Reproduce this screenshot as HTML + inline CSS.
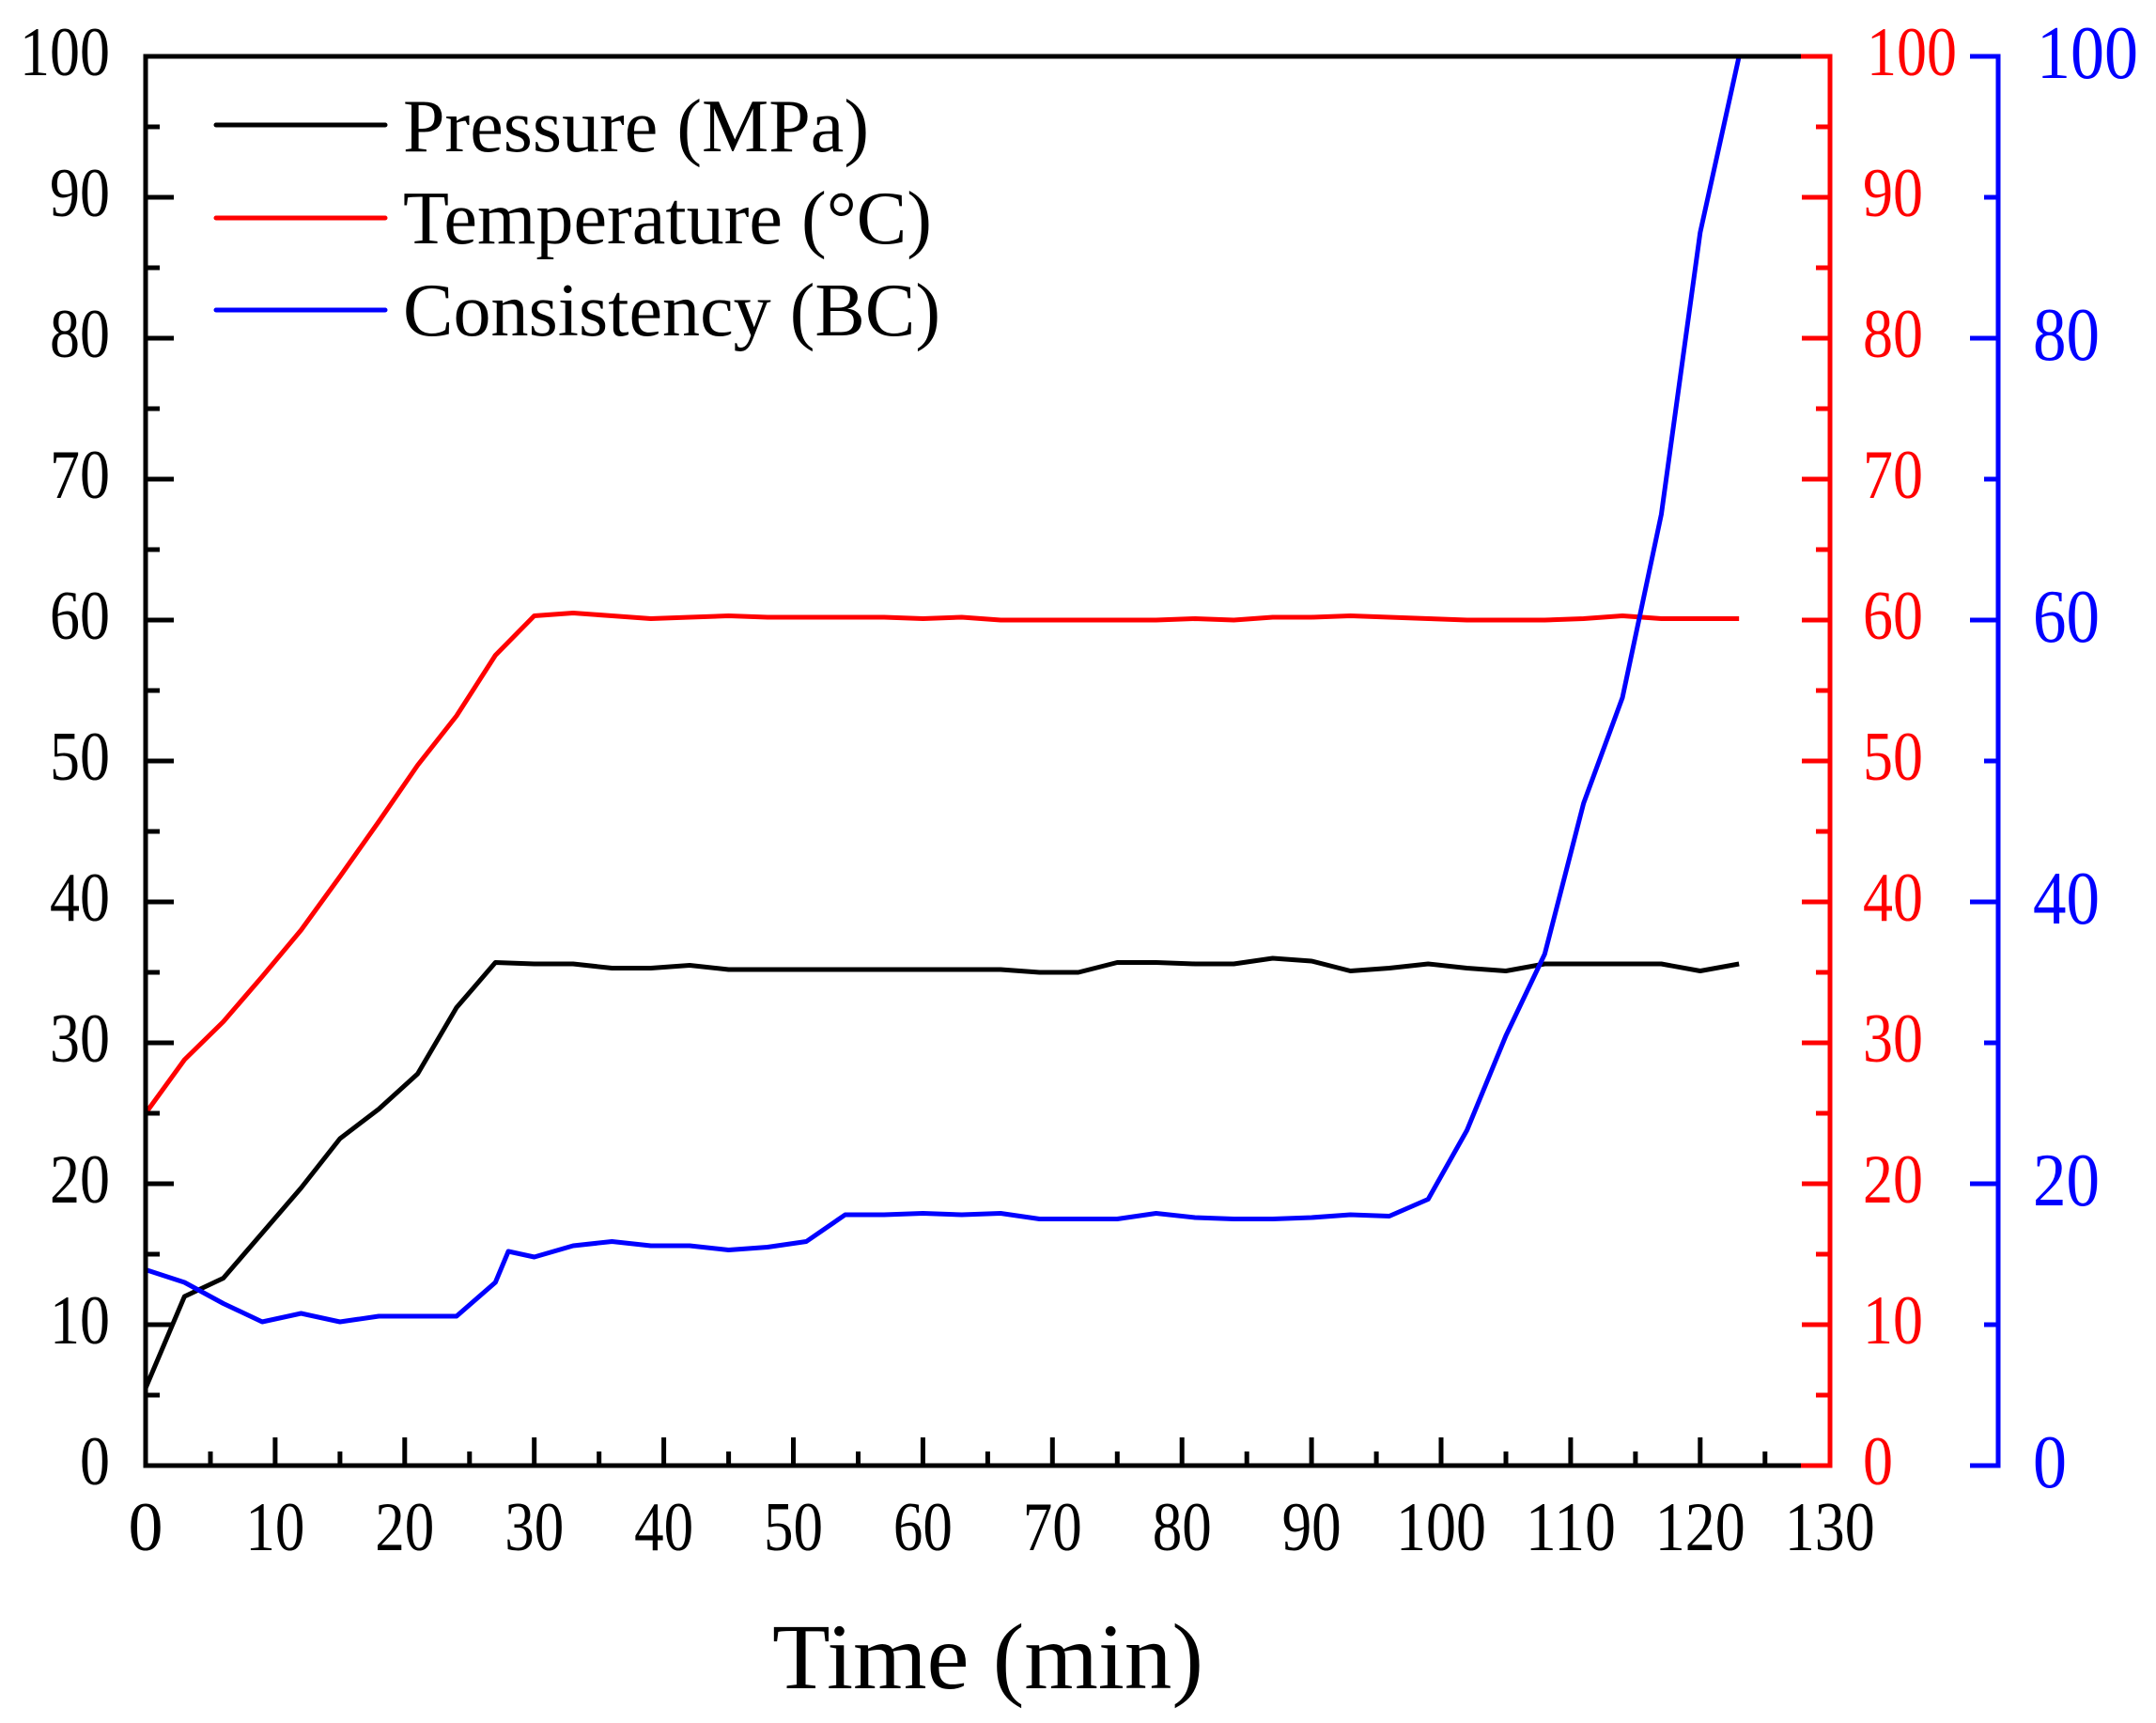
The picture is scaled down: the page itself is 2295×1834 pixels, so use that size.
<!DOCTYPE html>
<html><head><meta charset="utf-8"><style>
html,body{margin:0;padding:0;background:#fff;}
svg{display:block;}
text{font-family:"Liberation Serif",serif;}
</style></head><body>
<svg width="2295" height="1834" viewBox="0 0 2295 1834" xmlns="http://www.w3.org/2000/svg">
<rect width="2295" height="1834" fill="#fff"/>
<g transform="translate(155,1560) scale(13.79,-15)" fill="none" stroke-width="5" stroke-linejoin="round">
<polyline vector-effect="non-scaling-stroke" stroke="#000" points="0,5.5 3,12 6,13.3 9,16.5 12,19.7 15,23.2 18,25.3 21,27.8 24,32.5 27,35.7 30,35.6 33,35.6 36,35.3 39,35.3 42,35.5 45,35.2 48,35.2 51,35.2 54,35.2 57,35.2 60,35.2 63,35.2 66,35.2 69,35.0 72,35.0 75,35.7 78,35.7 81,35.6 84,35.6 87,36 90,35.8 93,35.1 96,35.3 99,35.6 102,35.3 105,35.1 108,35.6 111,35.6 114,35.6 117,35.6 120,35.1 123,35.6"/>
<polyline vector-effect="non-scaling-stroke" stroke="#ff0000" points="0,25 3,28.8 6,31.5 9,34.7 12,38 15,41.8 18,45.7 21,49.7 24,53.2 27,57.5 30,60.3 33,60.5 36,60.3 39,60.1 42,60.2 45,60.3 48,60.2 51,60.2 54,60.2 57,60.2 60,60.1 63,60.2 66,60 69,60 72,60 75,60 78,60 81,60.1 84,60 87,60.2 90,60.2 93,60.3 96,60.2 99,60.1 102,60 105,60 108,60 111,60.1 114,60.3 117,60.1 120,60.1 123,60.1"/>
<polyline vector-effect="non-scaling-stroke" stroke="#0000ff" points="0,13.9 3,13 6,11.5 9,10.2 12,10.8 15,10.2 18,10.6 21,10.6 24,10.6 27,13 28,15.2 30,14.8 33,15.6 36,15.9 39,15.6 42,15.6 45,15.3 48,15.5 51,15.9 54,17.8 57,17.8 60,17.9 63,17.8 66,17.9 69,17.5 72,17.5 75,17.5 78,17.9 81,17.6 84,17.5 87,17.5 90,17.6 93,17.8 96,17.7 99,18.9 102,23.8 105,30.5 108,36.3 111,47 114,54.5 117,67.5 120,87.5 123,100"/>
</g>
<g stroke-width="5" fill="none" stroke-linecap="square">
<line x1="155" y1="60" x2="1917" y2="60" stroke="#000"/>
<line x1="155" y1="1560" x2="1917" y2="1560" stroke="#000"/>
<line x1="155" y1="60" x2="155" y2="1560" stroke="#000"/>
<polyline points="1917,60 1948,60 1948,1560 1917,1560" stroke="#ff0000" stroke-linecap="butt"/>
<polyline points="2097,60 2127,60 2127,1560 2097,1560" stroke="#0000ff" stroke-linecap="butt"/>
</g>
<g stroke="#000" stroke-width="5">
<path d="M155 60h30M155 210h30M155 360h30M155 510h30M155 660h30M155 810h30M155 960h30M155 1110h30M155 1260h30M155 1410h30
M155 135h15M155 285h15M155 435h15M155 585h15M155 735h15M155 885h15M155 1035h15M155 1185h15M155 1335h15M155 1485h15"/>
<path d="M292.9 1560v-30M430.8 1560v-30M568.7 1560v-30M706.6 1560v-30M844.5 1560v-30M982.4 1560v-30M1120.3 1560v-30M1258.2 1560v-30M1396.1 1560v-30M1534 1560v-30M1671.9 1560v-30M1809.8 1560v-30
M224 1560v-15M361.9 1560v-15M499.8 1560v-15M637.7 1560v-15M775.6 1560v-15M913.5 1560v-15M1051.4 1560v-15M1189.3 1560v-15M1327.2 1560v-15M1465.1 1560v-15M1603 1560v-15M1740.9 1560v-15M1878.8 1560v-15"/>
</g>
<g stroke="#ff0000" stroke-width="5">
<path d="M1948 210h-30M1948 360h-30M1948 510h-30M1948 660h-30M1948 810h-30M1948 960h-30M1948 1110h-30M1948 1260h-30M1948 1410h-30
M1948 135h-15M1948 285h-15M1948 435h-15M1948 585h-15M1948 735h-15M1948 885h-15M1948 1035h-15M1948 1185h-15M1948 1335h-15M1948 1485h-15"/>
</g>
<g stroke="#0000ff" stroke-width="5">
<path d="M2127 360h-30M2127 660h-30M2127 960h-30M2127 1260h-30
M2127 210h-15M2127 510h-15M2127 810h-15M2127 1110h-15M2127 1410h-15"/>
</g>
<g font-size="74" text-anchor="end" fill="#000">
<text x="117" y="80" textLength="96" lengthAdjust="spacingAndGlyphs">100</text>
<text x="117" y="230" textLength="64" lengthAdjust="spacingAndGlyphs">90</text>
<text x="117" y="380" textLength="64" lengthAdjust="spacingAndGlyphs">80</text>
<text x="117" y="530" textLength="64" lengthAdjust="spacingAndGlyphs">70</text>
<text x="117" y="680" textLength="64" lengthAdjust="spacingAndGlyphs">60</text>
<text x="117" y="830" textLength="64" lengthAdjust="spacingAndGlyphs">50</text>
<text x="117" y="980" textLength="64" lengthAdjust="spacingAndGlyphs">40</text>
<text x="117" y="1130" textLength="64" lengthAdjust="spacingAndGlyphs">30</text>
<text x="117" y="1280" textLength="64" lengthAdjust="spacingAndGlyphs">20</text>
<text x="117" y="1430" textLength="64" lengthAdjust="spacingAndGlyphs">10</text>
<text x="117" y="1580" textLength="32" lengthAdjust="spacingAndGlyphs">0</text>
</g>
<g font-size="74" text-anchor="middle" fill="#000">
<text x="155" y="1650">0</text>
<text x="292.9" y="1650" textLength="63" lengthAdjust="spacingAndGlyphs">10</text>
<text x="430.8" y="1650" textLength="63" lengthAdjust="spacingAndGlyphs">20</text>
<text x="568.7" y="1650" textLength="63" lengthAdjust="spacingAndGlyphs">30</text>
<text x="706.6" y="1650" textLength="63" lengthAdjust="spacingAndGlyphs">40</text>
<text x="844.5" y="1650" textLength="63" lengthAdjust="spacingAndGlyphs">50</text>
<text x="982.4" y="1650" textLength="63" lengthAdjust="spacingAndGlyphs">60</text>
<text x="1120.3" y="1650" textLength="63" lengthAdjust="spacingAndGlyphs">70</text>
<text x="1258.2" y="1650" textLength="63" lengthAdjust="spacingAndGlyphs">80</text>
<text x="1396.1" y="1650" textLength="63" lengthAdjust="spacingAndGlyphs">90</text>
<text x="1534" y="1650" textLength="96" lengthAdjust="spacingAndGlyphs">100</text>
<text x="1671.9" y="1650" textLength="96" lengthAdjust="spacingAndGlyphs">110</text>
<text x="1809.8" y="1650" textLength="96" lengthAdjust="spacingAndGlyphs">120</text>
<text x="1947.7" y="1650" textLength="96" lengthAdjust="spacingAndGlyphs">130</text>
</g>
<g font-size="74" fill="#ff0000">
<text x="1987" y="80" textLength="96" lengthAdjust="spacingAndGlyphs">100</text>
<text x="1983" y="230" textLength="64" lengthAdjust="spacingAndGlyphs">90</text>
<text x="1983" y="380" textLength="64" lengthAdjust="spacingAndGlyphs">80</text>
<text x="1983" y="530" textLength="64" lengthAdjust="spacingAndGlyphs">70</text>
<text x="1983" y="680" textLength="64" lengthAdjust="spacingAndGlyphs">60</text>
<text x="1983" y="830" textLength="64" lengthAdjust="spacingAndGlyphs">50</text>
<text x="1983" y="980" textLength="64" lengthAdjust="spacingAndGlyphs">40</text>
<text x="1983" y="1130" textLength="64" lengthAdjust="spacingAndGlyphs">30</text>
<text x="1983" y="1280" textLength="64" lengthAdjust="spacingAndGlyphs">20</text>
<text x="1983" y="1430" textLength="64" lengthAdjust="spacingAndGlyphs">10</text>
<text x="1983" y="1580" textLength="32" lengthAdjust="spacingAndGlyphs">0</text>
</g>
<g font-size="80" fill="#0000ff">
<text x="2168" y="83" textLength="108" lengthAdjust="spacingAndGlyphs">100</text>
<text x="2164" y="383" textLength="71" lengthAdjust="spacingAndGlyphs">80</text>
<text x="2164" y="683" textLength="71" lengthAdjust="spacingAndGlyphs">60</text>
<text x="2164" y="983" textLength="71" lengthAdjust="spacingAndGlyphs">40</text>
<text x="2164" y="1283" textLength="71" lengthAdjust="spacingAndGlyphs">20</text>
<text x="2164" y="1583" textLength="36" lengthAdjust="spacingAndGlyphs">0</text>
</g>
<g stroke-width="5" stroke-linecap="round">
<line x1="230" y1="133" x2="410" y2="133" stroke="#000"/>
<line x1="230" y1="232" x2="410" y2="232" stroke="#ff0000"/>
<line x1="230" y1="330" x2="410" y2="330" stroke="#0000ff"/>
</g>
<g font-size="80" fill="#000">
<text x="429" y="161" textLength="496" lengthAdjust="spacingAndGlyphs">Pressure (MPa)</text>
<text x="429" y="259" textLength="563" lengthAdjust="spacingAndGlyphs">Temperature (°C)</text>
<text x="429" y="357" textLength="572" lengthAdjust="spacingAndGlyphs">Consistency (BC)</text>
</g>
<text x="822" y="1797" font-size="100" textLength="459" lengthAdjust="spacingAndGlyphs" fill="#000">Time (min)</text>
</svg>
</body></html>
